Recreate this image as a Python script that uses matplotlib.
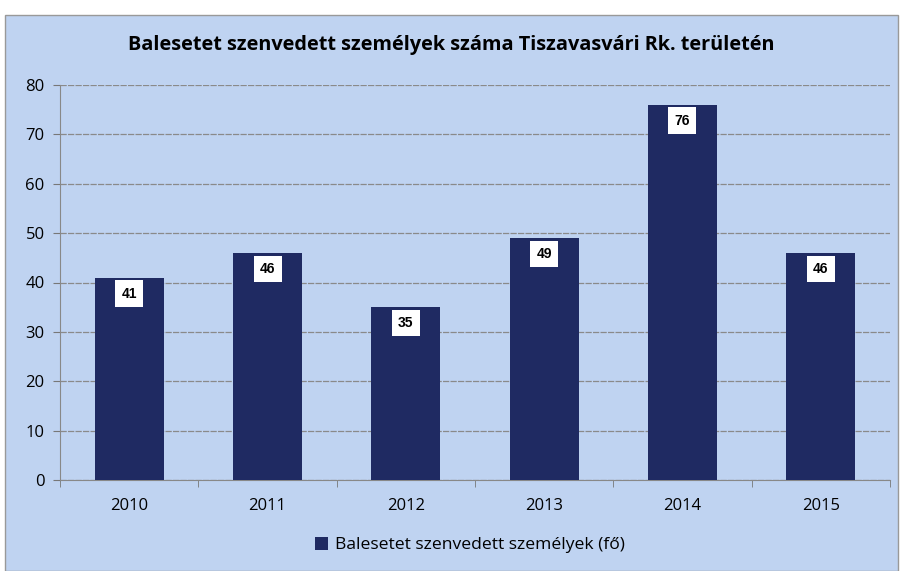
import matplotlib
matplotlib.use("Agg")
from matplotlib import pyplot as plt
from matplotlib.patches import Rectangle, Patch
import numpy as np

# adatok
years = ["2010", "2011", "2012", "2013", "2014", "2015"]
persons = [41, 46, 35, 49, 76, 46]
yticks = [0, 10, 20, 30, 40, 50, 60, 70, 80]

bg = "#bfd3f1"
navy = "#1f2a62"

plt.rcParams['font.family'] = ['Open Sans', 'DejaVu Sans']

fig = plt.figure(figsize=(9.03, 5.71), dpi=100)
fig.patch.set_facecolor("white")
# háttér keret
fig.patches.append(Rectangle((5 / 903, 0), 893 / 903, 1 - 15 / 571, transform=fig.transFigure,
                             facecolor=bg, edgecolor="#999999", linewidth=1, zorder=-10))

ax = fig.add_axes([60 / 903, 91 / 571, 830 / 903, 395 / 571])
ax.set_facecolor(bg)

x = np.arange(len(years))
bars = ax.bar(x, persons, width=0.5, color=navy, zorder=3)

for xi, v in zip(x, persons):
    ax.annotate(str(v), (xi, v), xytext=(0, -11.5), textcoords="offset points",
                ha="center", va="center", fontsize=10, fontweight="bold",
                family=["Liberation Sans"], color="black", zorder=4,
                bbox=dict(boxstyle="square,pad=0.45", facecolor="white", edgecolor="none"))

ax.set_xlim(-0.5, len(years) - 0.5)
ax.set_ylim(0, 80)
ax.set_yticks(yticks)
ax.set_xticks(x)
ax.set_xticklabels(years)
ax.set_xticks(np.arange(-0.5, len(years), 1), minor=True)
ax.tick_params(axis="x", which="major", length=0, labelsize=12, pad=13)
ax.tick_params(axis="x", which="minor", length=5, color="#777777")
ax.tick_params(axis="y", length=5, color="#777777", labelsize=12, pad=6)
ax.grid(axis="y", color="#8a8a8a", linewidth=0.9, linestyle=(0, (5, 1)), zorder=1)

for s in ["top", "right"]:
    ax.spines[s].set_visible(False)
ax.spines["left"].set_color("#888888")
ax.spines["bottom"].set_color("#888888")

fig.text(0.5, 1 - 45 / 571, "Balesetet szenvedett személyek száma Tiszavasvári Rk. területén",
         ha="center", va="center", fontsize=14.3, fontweight="bold")

fig.legend(handles=[Patch(facecolor=navy, label="Balesetet szenvedett személyek (fő)")],
           loc="center", bbox_to_anchor=(0.52, 1 - 545 / 571), frameon=False, fontsize=12.6,
           handlelength=0.75, handleheight=0.75, handletextpad=0.4)

fig.savefig("out.png", dpi=100, facecolor=fig.get_facecolor())
